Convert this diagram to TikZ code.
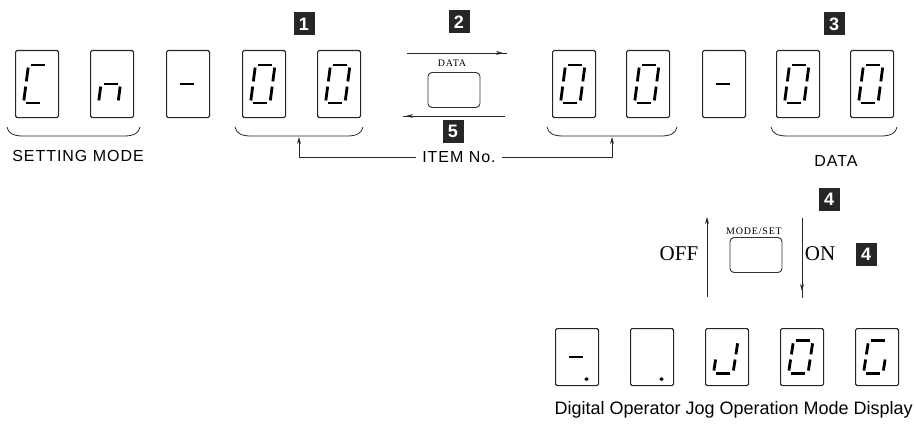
\documentclass[tikz,border=0pt]{standalone}
\usepackage{fontspec}
\setmainfont{Liberation Serif}
\setsansfont{Liberation Sans}
\usetikzlibrary{arrows.meta}
\tikzset{
  disp/.style={draw=black!85, line width=1.1pt, rounded corners=1.5pt, minimum width=43pt, minimum height=67pt, anchor=north west, inner sep=0pt},
  dispsm/.style={disp, minimum height=57pt},
  seg/.style={line width=2.8pt, shorten <=2.6pt, shorten >=2.6pt},
  numbox/.style={fill=black!85, text=white, font=\sffamily\bfseries\fontsize{18}{18}\selectfont, minimum width=21pt, minimum height=23pt, inner sep=0pt},
  keybox/.style={draw=black!80, line width=0.9pt, rounded corners=4pt, minimum width=52pt, minimum height=35pt, inner sep=0pt},
  conn/.style={line width=0.8pt, draw=black!85},
  tip/.style={-{Stealth[length=7pt,width=4pt]}},
  lbl/.style={font=\sffamily\fontsize{16}{18}\selectfont\addfontfeatures{LetterSpace=6}, inner sep=0pt},
  serlbl/.style={font=\rmfamily\fontsize{21}{22}\selectfont, inner sep=0pt},
  smallser/.style={font=\rmfamily\fontsize{10}{11}\selectfont\addfontfeatures{LetterSpace=8}, inner sep=0pt},
}
\newcommand{\sgA}{\draw[seg] (13.5,15) -- (33,15);}
\newcommand{\sgB}{\draw[seg] (33,15) -- (30.5,34);}
\newcommand{\sgC}{\draw[seg] (30.5,34) -- (28,53);}
\newcommand{\sgD}{\draw[seg] (8.5,53) -- (28,53);}
\newcommand{\sgE}{\draw[seg] (11,34) -- (8.5,53);}
\newcommand{\sgF}{\draw[seg] (13.5,15) -- (11,34);}
\newcommand{\sgG}{\draw[seg] (11,34) -- (30.5,34);}
\newcommand{\sgP}{\fill (31.5,60) circle (2pt);}
\newcommand{\segdigit}[3]{%
  \begin{scope}[shift={(#1.north west)}, yscale=#2]
    \foreach \s in {#3} {\csname sg\s\endcsname}
  \end{scope}}
\newcommand{\underbr}[3]{%
  \draw[conn] (#1,127) .. controls (#1+1,133) and (#1+6,136) .. (#1+16,136) -- (#2-16,136) .. controls (#2-6,136) and (#2-1,133) .. (#2,127);
  \coordinate (#3) at ({(#1+#2)/2},137);}
\begin{document}
\begin{tikzpicture}[x=1pt,y=-1pt]
\useasboundingbox (0,0) rectangle (916,428);
% top row displays
\node[disp] (d1) at (15,50) {};
\node[disp] (d2) at (90,50) {};
\node[disp] (d3) at (166,50) {};
\node[disp] (d4) at (242,50) {};
\node[disp] (d5) at (317,50) {};
\node[disp] (d6) at (552,50) {};
\node[disp] (d7) at (626,50) {};
\node[disp] (d8) at (702,50) {};
\node[disp] (d9) at (776,50) {};
\node[disp] (d10) at (850,50) {};
\segdigit{d1}{1}{A,F,E,D}
\segdigit{d2}{1}{C,E,G}
\segdigit{d3}{1}{G}
\segdigit{d4}{1}{A,B,C,D,E,F}
\segdigit{d5}{1}{A,B,C,D,E,F}
\segdigit{d6}{1}{A,B,C,D,E,F}
\segdigit{d7}{1}{A,B,C,D,E,F}
\segdigit{d8}{1}{G}
\segdigit{d9}{1}{A,B,C,D,E,F}
\segdigit{d10}{1}{A,B,C,D,E,F}
% braces
\underbr{7}{140}{bS}
\underbr{235}{363}{bL}
\underbr{547}{677}{bR}
\underbr{771}{897}{bD}
% labels under braces
\node[lbl] (setmode) at (78,156) {SETTING MODE};
\node[lbl] (item) at (459,157) {ITEM No.};
\node[lbl] (datal) at (836,161) {DATA};
\draw[conn,tip] ([xshift=-6pt]item.west) -| (bL);
\draw[conn,tip] ([xshift=6pt]item.east) -| (bR);
% number tags
\node[numbox] (n1) at (304,24) {1};
\node[numbox] (n2) at (459,22) {2};
\node[numbox] (n3) at (834,24) {3};
\node[numbox] (n5) at (453,131) {5};
\node[numbox] (n4a) at (829,199) {4};
\node[numbox] (n4b) at (866,254) {4};
% DATA key
\node[keybox] (kdata) at (454,90) {};
\node[smallser] (tdata) at (452,63) {DATA};
\coordinate (t1) at (407,53);
\coordinate (t2) at (507,53);
\coordinate (t3) at (503,53);
\draw[conn] (t1) -- (t2);
\draw[conn,tip] (t1) -- (t3);
\coordinate (u1) at (505,116);
\coordinate (u2) at (403,116);
\coordinate (u3) at (406,116);
\draw[conn] (u1) -- (u2);
\draw[conn,tip] (u1) -- (u3);
% MODE/SET key
\node[keybox] (kmode) at (756,255) {};
\node[smallser] (tmode) at (754,231) {MODE/SET};
\coordinate (off1) at (707,297);
\coordinate (off2) at (707,217);
\draw[conn,tip] (off1) -- (off2);
\coordinate (on1) at (802,218);
\coordinate (on2) at (802,298);
\coordinate (on3) at (802,291);
\draw[conn] (on1) -- (on2);
\draw[conn,tip] (on1) -- (on3);
\node[serlbl] (off) at (679,254) {OFF};
\node[serlbl] (on) at (820,254) {ON};
% bottom row
\node[dispsm] (e1) at (555,328) {};
\node[dispsm] (e2) at (630,328) {};
\node[dispsm] (e3) at (705,328) {};
\node[dispsm] (e4) at (780,328) {};
\node[dispsm] (e5) at (855,328) {};
\segdigit{e1}{0.851}{G,P}
\segdigit{e2}{0.851}{P}
\segdigit{e3}{0.851}{B,C,D,E}
\segdigit{e4}{0.851}{A,B,C,D,E,F}
\segdigit{e5}{0.851}{A,F,E,D,C}
\node[font=\sffamily\fontsize{18}{19}\selectfont, inner sep=0pt, anchor=east] (cap) at (913,410) {Digital Operator Jog Operation Mode Display};
\end{tikzpicture}
\end{document}
